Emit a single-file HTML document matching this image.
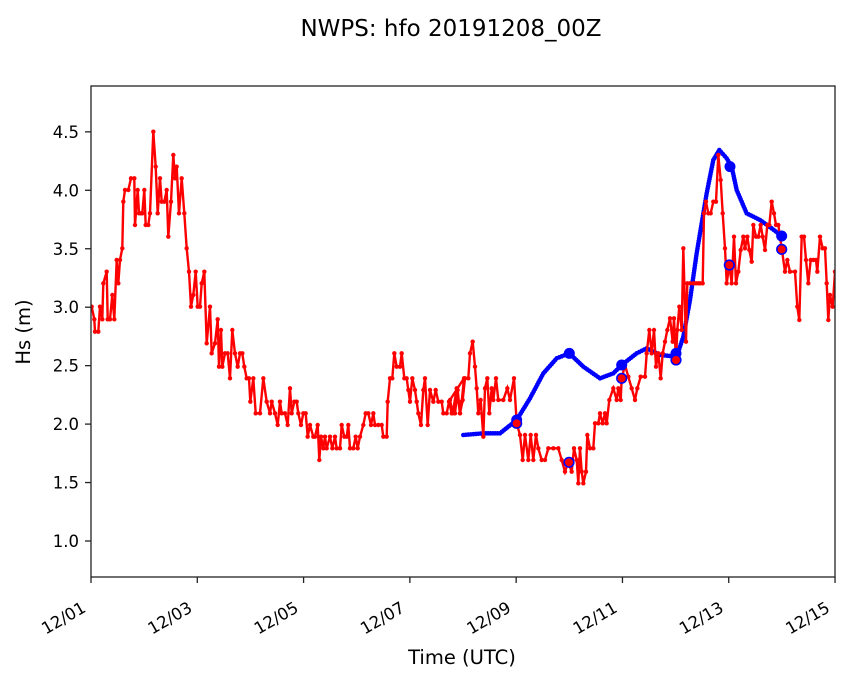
<!DOCTYPE html><html><head><style>body{margin:0;background:#fff}svg{display:block;font-family:"DejaVu Sans","Liberation Sans",sans-serif}</style></head><body>
<svg id="s" width="853" height="681" xmlns="http://www.w3.org/2000/svg">
<rect width="853" height="681" fill="#fff"/>
<text x="451" y="36" font-size="23" text-anchor="middle">NWPS: hfo 20191208_00Z</text>
<g id="ax" font-size="16.5"></g>
<g id="plot"></g>
<rect x="91" y="86" width="744" height="491" fill="none" stroke="#222" stroke-width="1.3"/>
<text x="462" y="664" font-size="19.5" text-anchor="middle">Time (UTC)</text>
<text transform="translate(30,332) rotate(-90)" font-size="19.5" text-anchor="middle">Hs (m)</text>
</svg>
<script>
var NS="http://www.w3.org/2000/svg";
function el(p,n,a){var e=document.createElementNS(NS,n);for(var k in a)e.setAttribute(k,a[k]);p.appendChild(e);return e;}
var ax=document.getElementById('ax'),pl=document.getElementById('plot');
for(var i=0;i<8;i++){var v=1+i*0.5,y=541-(v-1)*116.9;el(ax,'line',{x1:85,x2:91,y1:y,y2:y,stroke:'#222','stroke-width':1.3});var t=el(ax,'text',{x:79,y:y+6,'text-anchor':'end'});t.textContent=v.toFixed(1);}
var lab=['12/01','12/03','12/05','12/07','12/09','12/11','12/13','12/15'];
for(var i=0;i<8;i++){var x=91+i*106.29;el(ax,'line',{x1:x,x2:x,y1:577,y2:583,stroke:'#222','stroke-width':1.3});var t=el(ax,'text',{transform:'translate('+(x-4)+',611) rotate(-30)','text-anchor':'end'});t.textContent=lab[i];}
var r1=[20,560,28,598,30,635,40,635,45,560,52,598,55,490,65,455,68,598,75,598,82,525,88,598,95,420,100,490,105,420,112,385,115,245,120,210,130,210,138,175,148,175,150,315,158,210,162,280,168,280,172,280,178,210,182,315,190,315,195,280,205,35,212,140,218,280,225,175,230,245,238,245,245,210,250,350,258,245,265,105,270,175,275,140,282,280,290,175,298,280,305,385,312,455,318,560,325,525,332,455,338,560,345,560,350,490,358,455,365,670,375,560,380,700,390,670,398,598,402,740,408,630,412,740,420,700,428,700,435,775,442,630,450,700,458,740,465,700,472,700,478,740,485,775,492,775,496,845,505,775,512,880,525,880,535,775,545,845,555,880,560,845,570,880,578,915,585,845,590,880,600,880,608,915,615,805,620,880,628,845,635,845,640,880,648,915,655,880,662,880,668,950,675,915,685,950,690,950,698,915,703,1020,708,950,715,985,720,950,725,985,735,950,742,985,750,950,755,985,765,985,770,915,778,950,785,950,790,915,795,985,805,985,812,950,818,985,825,950,835,915,842,880,850,880,858,915,865,880,870,915,880,915,890,915,895,950,905,950,908,845,915,775,922,775,928,700,935,740,945,740,950,700,958,775,965,775,970,810,975,845,982,775,990,810,995,845,1000,880,1008,915,1015,810,1020,775,1028,915,1035,810,1045,845,1052,810,1060,845,1070,845,1075,880,1085,880,1092,845,1100,880,1110,880,1118,810,1125,880,1130,845,1137,775];
var r2=[0,780,8,820,20,745,30,820,38,780,45,715,55,715,60,640,68,605,75,680,80,745,85,820,92,780,100,890,105,745,112,715,118,820,125,745,130,780,138,715,145,780,160,780,172,745,180,780,192,715,200,850,210,885,218,960,225,885,235,960,242,885,250,960,258,885,265,925,275,960,285,960,295,925,310,925,325,925,335,960,345,995,355,965,365,995,372,925,380,960,385,1030,390,925,395,995,400,1030,408,995,412,885,420,925,430,925,435,850,445,850,450,820,458,850,465,820,470,850,478,780,490,745,500,780,505,745,512,780,515,715,525,675,535,710,545,745,555,780,562,745,572,710,585,710,590,640,598,570,605,640,612,570,618,680,625,640,632,715,638,640,645,605,652,570,660,535,668,605,672,535,678,660,682,570,688,500,695,570,700,325,708,605,712,430,720,430,730,430,738,430,745,430,750,430,758,430,762,220,768,185,775,220,782,220,790,185,798,185,805,45,812,120,818,220,825,325,830,430,838,375,845,430,852,290,858,430,865,395,872,330,880,290,885,325,892,290,898,330,905,365,910,255,918,290,925,290,932,255,938,290,945,330,952,255,958,255,965,185,972,220,978,255,985,255,995,325,1005,395,1012,360,1020,395,1035,395,1042,500,1048,540,1055,290,1062,290,1068,360,1075,430,1082,360,1090,360,1098,360,1102,395,1110,290,1118,325,1125,325,1130,430,1135,540,1140,465,1148,500,1155,395];
var pts=[];for(var i=0;i<r1.length;i+=2)pts.push([85+r1[i]/3,120+r1[i+1]/3]);
for(var i=0;i<r2.length;i+=2)pts.push([450+r2[i]/3,140+r2[i+1]/3]);
pts=pts.filter(function(p){return p[0]<=836;});
var b=[40,885,100,880,150,880,200,840,240,775,280,700,320,655,358,640,400,680,450,715,490,700,515,675,560,640,590,625,630,645,680,650,700,590,720,480,740,340,770,160,790,60,808,30,830,55,845,80,860,150,890,220,930,240,965,265,995,288];
var bp=[];for(var i=0;i<b.length;i+=2)bp.push([450+b[i]/3,140+b[i+1]/3]);
function str(a){return a.map(function(p){return p[0].toFixed(1)+','+p[1].toFixed(1)}).join(' ');}
var cp=el(pl,'clipPath',{id:'c'});el(cp,'rect',{x:91,y:86,width:744,height:491});
var g=el(pl,'g',{'clip-path':'url(#c)'});
el(g,'polyline',{points:str(bp),fill:'none',stroke:'#00f','stroke-width':3.5,'stroke-linejoin':'round'});
for(var i=0;i<bp.length-1;i++){var a=bp[i],c=bp[i+1],d=Math.hypot(c[0]-a[0],c[1]-a[1]),n=Math.max(1,Math.round(d/2.5));for(var k=0;k<n;k++){el(g,'circle',{cx:a[0]+(c[0]-a[0])*k/n,cy:a[1]+(c[1]-a[1])*k/n,r:2.3,fill:'#00f'});}}
el(g,'polyline',{points:str(pts),fill:'none',stroke:'#f00','stroke-width':2.4});
pts.forEach(function(p){el(g,'circle',{cx:p[0],cy:p[1],r:2.2,fill:'#f00'});});
[[200,840],[358,640],[515,675],[678,640],[840,80],[995,288]].forEach(function(p){el(g,'circle',{cx:450+p[0]/3,cy:140+p[1]/3,r:5.5,fill:'#00f'});});
[[200,850],[357,967],[515,715],[678,660],[838,375],[995,328]].forEach(function(p){el(g,'circle',{cx:450+p[0]/3,cy:140+p[1]/3,r:4.8,fill:'#f00',stroke:'#00f','stroke-width':1.6});});
</script>
</body></html>
